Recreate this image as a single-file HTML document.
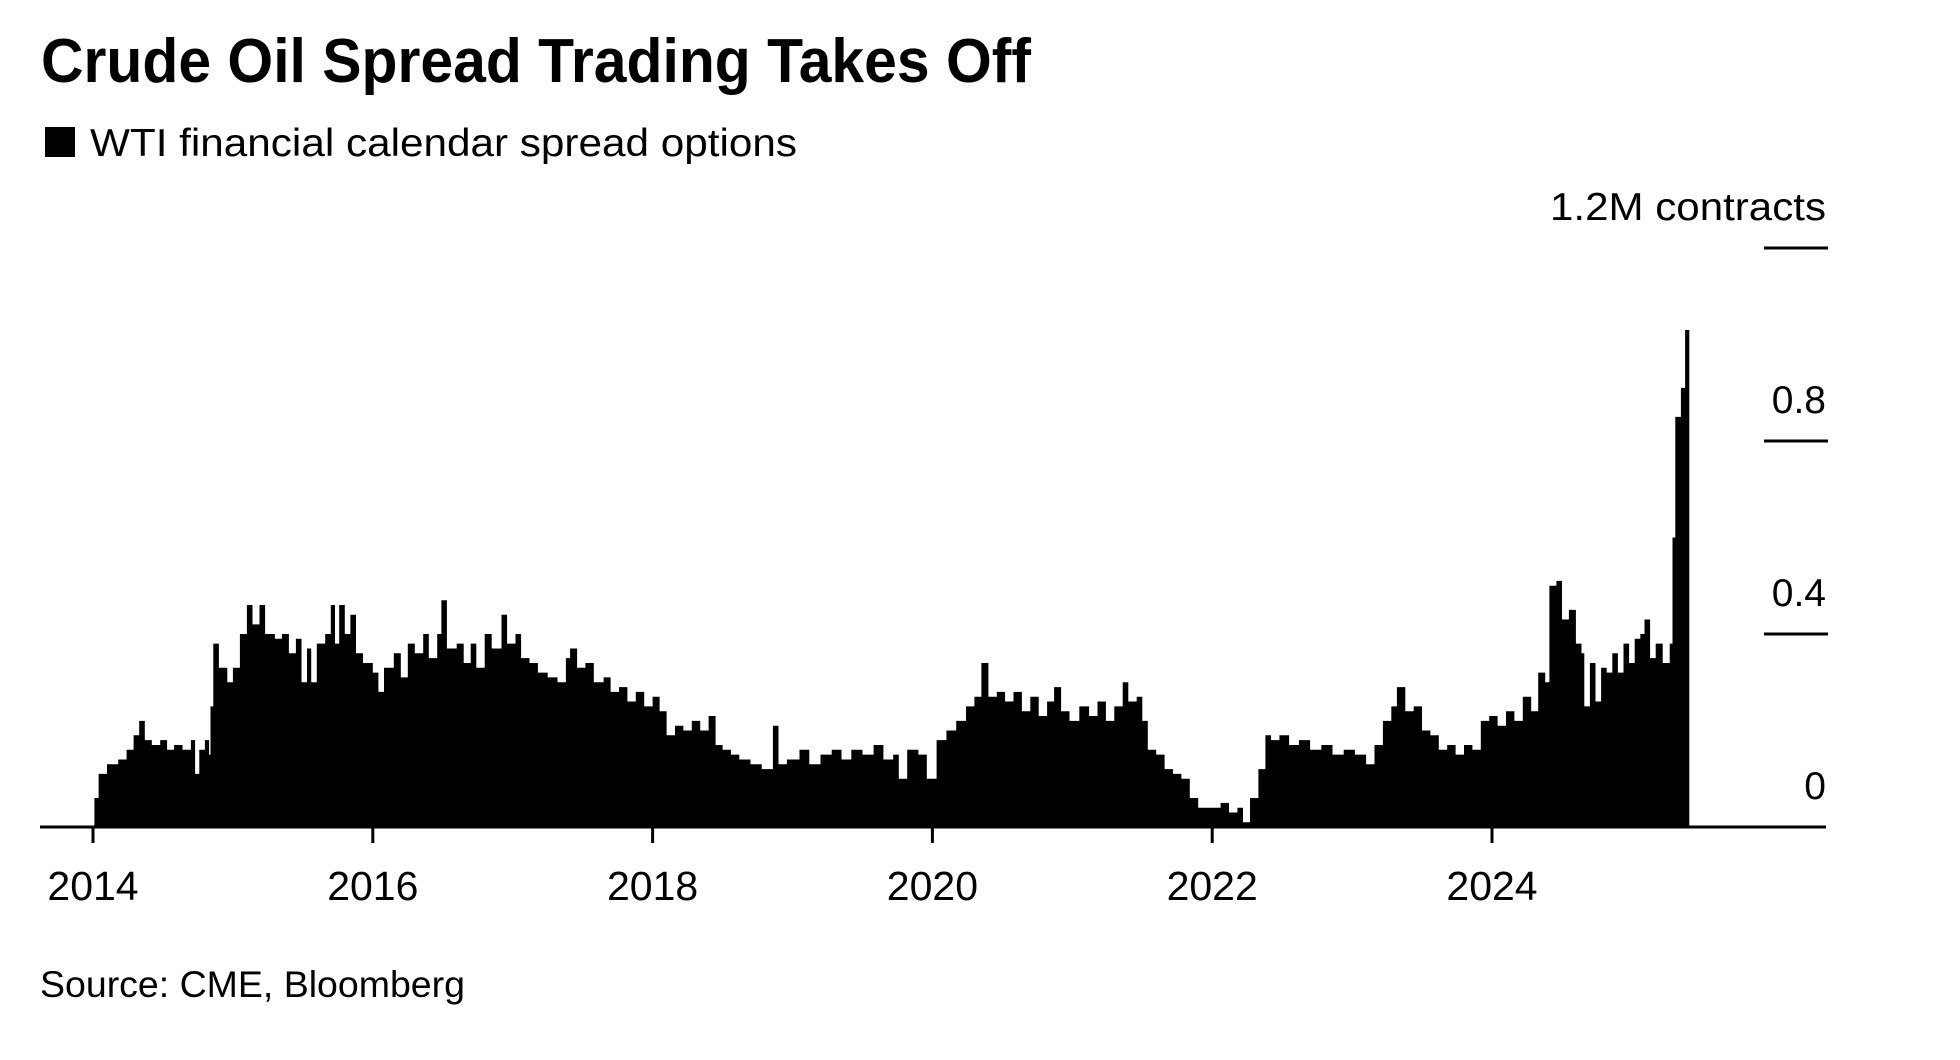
<!DOCTYPE html>
<html><head><meta charset="utf-8"><style>
html,body{margin:0;padding:0;background:#fff;}
svg{display:block;font-family:"Liberation Sans",Arial,sans-serif;}
</style></head><body>
<svg id="chart" width="1960" height="1060" viewBox="0 0 1960 1060">
<text x="41" y="82" font-size="62" font-weight="bold" textLength="990" lengthAdjust="spacingAndGlyphs">Crude Oil Spread Trading Takes Off</text>
<rect x="45" y="127" width="30" height="30" fill="#000"/>
<text x="90" y="156" font-size="39" textLength="707" lengthAdjust="spacingAndGlyphs">WTI financial calendar spread options</text>
<g id="plot"></g>
<text x="40" y="997" font-size="37" textLength="425" lengthAdjust="spacingAndGlyphs">Source: CME, Bloomberg</text>
</svg>
<script>
const dates = [2014.00,2014.01,2014.04,2014.10,2014.18,2014.24,2014.29,2014.33,2014.37,2014.42,2014.48,2014.53,2014.58,2014.64,2014.70,2014.73,2014.76,2014.80,2014.83,2014.84,2014.86,2014.90,2014.96,2015.00,2015.05,2015.10,2015.14,2015.19,2015.23,2015.30,2015.35,2015.40,2015.45,2015.49,2015.53,2015.56,2015.60,2015.66,2015.70,2015.73,2015.76,2015.80,2015.84,2015.88,2015.93,2016.00,2016.04,2016.08,2016.15,2016.20,2016.25,2016.30,2016.36,2016.40,2016.46,2016.49,2016.53,2016.60,2016.65,2016.70,2016.74,2016.80,2016.85,2016.92,2016.96,2017.02,2017.06,2017.12,2017.18,2017.25,2017.32,2017.38,2017.41,2017.46,2017.52,2017.58,2017.65,2017.70,2017.76,2017.82,2017.88,2017.94,2018.00,2018.05,2018.10,2018.16,2018.22,2018.28,2018.34,2018.40,2018.45,2018.50,2018.56,2018.62,2018.70,2018.78,2018.86,2018.90,2018.96,2019.05,2019.12,2019.20,2019.28,2019.35,2019.42,2019.50,2019.58,2019.65,2019.72,2019.76,2019.82,2019.90,2019.96,2020.03,2020.10,2020.17,2020.24,2020.30,2020.35,2020.40,2020.46,2020.52,2020.58,2020.64,2020.70,2020.76,2020.82,2020.87,2020.92,2020.98,2021.05,2021.12,2021.18,2021.24,2021.30,2021.36,2021.40,2021.46,2021.50,2021.54,2021.60,2021.66,2021.72,2021.78,2021.84,2021.90,2021.98,2022.06,2022.12,2022.18,2022.22,2022.27,2022.33,2022.38,2022.42,2022.48,2022.55,2022.62,2022.70,2022.78,2022.86,2022.94,2023.02,2023.10,2023.16,2023.22,2023.28,2023.32,2023.38,2023.44,2023.50,2023.56,2023.62,2023.68,2023.74,2023.80,2023.86,2023.92,2023.98,2024.04,2024.10,2024.16,2024.22,2024.28,2024.33,2024.38,2024.41,2024.46,2024.50,2024.55,2024.60,2024.64,2024.66,2024.70,2024.74,2024.78,2024.82,2024.86,2024.90,2024.94,2024.98,2025.02,2025.06,2025.09,2025.13,2025.17,2025.22,2025.27,2025.29,2025.31,2025.35,2025.38,2025.41];
const values = [0.00,0.06,0.11,0.13,0.14,0.16,0.19,0.22,0.18,0.17,0.18,0.16,0.17,0.16,0.18,0.11,0.16,0.18,0.15,0.25,0.38,0.33,0.30,0.33,0.40,0.46,0.42,0.46,0.40,0.39,0.40,0.36,0.39,0.30,0.37,0.30,0.38,0.40,0.46,0.38,0.46,0.40,0.44,0.36,0.34,0.32,0.28,0.33,0.36,0.31,0.38,0.36,0.40,0.35,0.40,0.47,0.37,0.38,0.34,0.38,0.33,0.40,0.37,0.44,0.38,0.40,0.35,0.34,0.32,0.31,0.30,0.35,0.37,0.33,0.34,0.30,0.31,0.28,0.29,0.26,0.28,0.25,0.27,0.24,0.19,0.21,0.20,0.22,0.20,0.23,0.17,0.16,0.15,0.14,0.13,0.12,0.21,0.13,0.14,0.16,0.13,0.15,0.16,0.14,0.16,0.15,0.17,0.14,0.15,0.10,0.16,0.15,0.10,0.18,0.20,0.22,0.25,0.27,0.34,0.27,0.28,0.26,0.28,0.24,0.27,0.23,0.26,0.29,0.24,0.22,0.25,0.23,0.26,0.22,0.25,0.30,0.26,0.27,0.22,0.16,0.15,0.12,0.11,0.10,0.06,0.04,0.04,0.05,0.03,0.04,0.01,0.06,0.12,0.19,0.18,0.19,0.17,0.18,0.16,0.17,0.15,0.16,0.15,0.13,0.17,0.22,0.25,0.29,0.24,0.25,0.20,0.19,0.16,0.17,0.15,0.17,0.16,0.22,0.23,0.21,0.24,0.22,0.27,0.24,0.32,0.30,0.50,0.51,0.43,0.45,0.38,0.36,0.25,0.34,0.26,0.33,0.32,0.36,0.32,0.38,0.34,0.39,0.40,0.43,0.35,0.38,0.34,0.38,0.60,0.85,0.91,1.03,1.03];
const xTickYears = [2014,2016,2018,2020,2022,2024];
const xTickLabels = ["2014","2016","2018","2020","2022","2024"];
const yTickValues = [1.2,0.8,0.4,0];
const yTickLabels = ["1.2M contracts","0.8","0.4","0"];

const NS = "http://www.w3.org/2000/svg";
const X0 = 93, PX_PER_YEAR = 139.9, Y0 = 827, PX_PER_M = 482.5;
function xScale(t){ return X0 + (t - 2014) * PX_PER_YEAR; }
function yScale(v){ return Y0 - v * PX_PER_M; }
const plot = document.getElementById('plot');
function mk(tag, attrs){ const e = document.createElementNS(NS, tag); for (const k in attrs) e.setAttribute(k, attrs[k]); return e; }

// area (step style)
let d = "M" + xScale(dates[0]).toFixed(1) + "," + Y0;
for (let i = 0; i < dates.length; i++) {
  const x = xScale(dates[i]).toFixed(1), y = yScale(values[i]).toFixed(1);
  d += " L" + x + "," + y;
  if (i < dates.length - 1) d += " L" + xScale(dates[i+1]).toFixed(1) + "," + y;
}
d += " L" + xScale(dates[dates.length-1]).toFixed(1) + "," + Y0 + " Z";
const area = mk('path', {d: d, fill: '#000'});


plot.appendChild(area);

// y ticks
yTickValues.forEach((v, i) => {
  const y = yScale(v);
  if (v !== 0) {
    const ln = mk('line', {x1: 1764, x2: 1828, y1: y, y2: y, stroke: '#000', 'stroke-width': 3});
    
    
    plot.appendChild(ln);
  }
  const t = mk('text', {x: 1826, y: y - 28, 'font-size': 39, 'text-anchor': 'end'});
  if (i === 0) { t.setAttribute('textLength', 276); t.setAttribute('lengthAdjust', 'spacingAndGlyphs'); }
  t.textContent = yTickLabels[i];
  
  
  plot.appendChild(t);
});

// x axis
const axis = mk('line', {x1: 40, x2: 1826, y1: Y0, y2: Y0, stroke: '#000', 'stroke-width': 3});


plot.appendChild(axis);
xTickYears.forEach((yr, i) => {
  const x = xScale(yr);
  const tk = mk('line', {x1: x, x2: x, y1: Y0, y2: 843, stroke: '#000', 'stroke-width': 3});
  
  
  plot.appendChild(tk);
  const t = mk('text', {x: x, y: 900, 'font-size': 41, 'text-anchor': 'middle'});
  t.textContent = xTickLabels[i];
  
  
  plot.appendChild(t);
});
</script>
</body></html>
